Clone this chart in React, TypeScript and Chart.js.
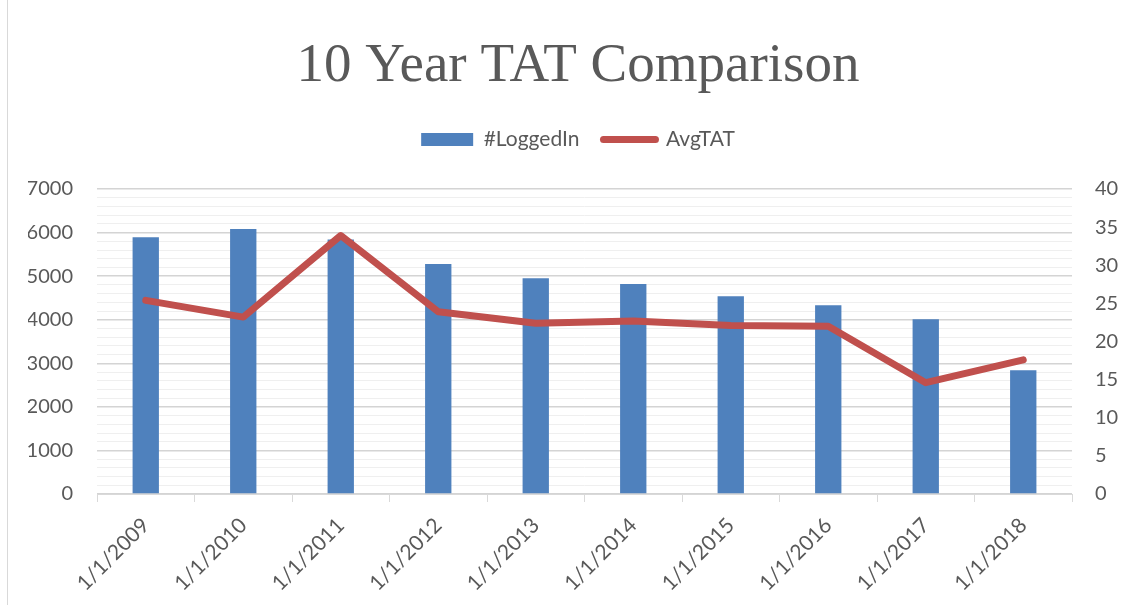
import React, { useEffect, useRef } from "react";
import { Chart, registerables } from "chart.js";

Chart.register(...registerables);

const categories = [
  "1/1/2009", "1/1/2010", "1/1/2011", "1/1/2012", "1/1/2013",
  "1/1/2014", "1/1/2015", "1/1/2016", "1/1/2017", "1/1/2018",
];
const loggedIn = [5890, 6080, 5840, 5280, 4950, 4820, 4540, 4330, 4010, 2840];
const avgTAT = [25.4, 23.2, 33.9, 23.9, 22.4, 22.7, 22.1, 22.0, 14.6, 17.6];
const leftTicksMax = 7000;
const rightTicksMax = 40;

const TEXT = "#595959";
const BLUE = "#4F81BD";
const RED = "#C0504D";

export default function App() {
  const ref = useRef<HTMLCanvasElement | null>(null);
  useEffect(() => {
    if (!ref.current) return;
    const legendSpace = {
      id: "legendSpace",
      afterInit(chart: any) {
        const lg = chart.legend;
        if (!lg) return;
        const orig = lg.fit;
        lg.fit = function () {
          orig.call(lg);
          lg.height += 29;
        };
      },
    };
    const chart = new Chart(ref.current, {
      type: "bar",
      data: {
        labels: categories,
        datasets: [
          {
            type: "bar",
            label: "#LoggedIn",
            data: loggedIn,
            backgroundColor: BLUE,
            yAxisID: "y",
            order: 1,
            barPercentage: 0.27,
            categoryPercentage: 1,
          },
          {
            type: "line",
            label: "AvgTAT",
            data: avgTAT,
            borderColor: RED,
            backgroundColor: RED,
            borderWidth: 7,
            pointRadius: 0,
            borderCapStyle: "round",
            borderJoinStyle: "round",
            yAxisID: "y1",
            order: 0,
          },
        ],
      } as any,
      options: {
        responsive: false,
        animation: false,
        layout: { padding: { left: 28, right: 0, top: 0, bottom: 0 } },
        plugins: {
          tooltip: { enabled: false },
          title: {
            display: true,
            text: "10 Year TAT Comparison",
            color: TEXT,
            font: { family: "'Liberation Serif', serif", size: 55, weight: "normal" },
            padding: { top: 34, bottom: 5 },
          },
          legend: {
            display: true,
            position: "top",
            labels: {
              color: TEXT,
              font: { family: "Lato, sans-serif", size: 21 },
              usePointStyle: true,
              pointStyleWidth: 52,
              boxHeight: 13,
              padding: 24,
              generateLabels: () => [
                {
                  text: "#LoggedIn",
                  fillStyle: BLUE,
                  strokeStyle: BLUE,
                  lineWidth: 0,
                  pointStyle: "rect",
                  datasetIndex: 0,
                  fontColor: TEXT,
                },
                {
                  text: "AvgTAT",
                  fillStyle: RED,
                  strokeStyle: RED,
                  lineWidth: 7,
                  lineCap: "round",
                  pointStyle: "line",
                  datasetIndex: 1,
                  fontColor: TEXT,
                },
              ] as any,
            },
          },
        },
        scales: {
          x: {
            offset: true,
            grid: {
              display: true,
              offset: true,
              drawOnChartArea: false,
              drawTicks: true,
              tickLength: 8,
              color: "#d9d9d9",
            },
            border: { display: true, color: "#d9d9d9" },
            ticks: {
              color: TEXT,
              font: { family: "Lato, sans-serif", size: 21 },
              minRotation: 45,
              maxRotation: 45,
              autoSkip: false,
              padding: 11,
            },
            afterFit: (s: any) => {
              s.height = 111;
            },
          },
          y: {
            position: "left",
            min: 0,
            max: leftTicksMax,
            grid: {
              drawTicks: false,
              color: (c: any) => (c.tick && c.tick.value % 1000 === 0 ? "#d4d4d4" : "#efefef"),
              lineWidth: (c: any) => (c.tick && c.tick.value % 1000 === 0 ? 1.5 : 1),
            },
            border: { display: false },
            ticks: {
              stepSize: 200,
              autoSkip: false,
              color: TEXT,
              font: { family: "Lato, sans-serif", size: 20 },
              padding: 24,
              callback: (v: any) => (Number(v) % 1000 === 0 ? String(v) : ""),
            },
            afterFit: (s: any) => {
              s.width = 69;
            },
          },
          y1: {
            position: "right",
            min: 0,
            max: rightTicksMax,
            grid: { display: false, drawTicks: false },
            border: { display: false },
            ticks: {
              stepSize: 5,
              color: TEXT,
              font: { family: "Lato, sans-serif", size: 20 },
              padding: 23,
            },
            afterFit: (s: any) => {
              s.width = 56;
            },
          },
        },
      } as any,
      plugins: [legendSpace],
    });
    return () => chart.destroy();
  }, []);

  return (
    <div style={{ position: "fixed", left: 0, top: 0, width: 1128, height: 605, background: "#fff" }}>
      <div
        style={{
          position: "absolute",
          left: 7,
          top: 0,
          width: 0,
          height: 605,
          borderLeft: "1px solid #d9d9d9",
        }}
      />
      <canvas ref={ref} width={1128} height={605} style={{ position: "absolute", left: 0, top: 0 }} />
    </div>
  );
}
